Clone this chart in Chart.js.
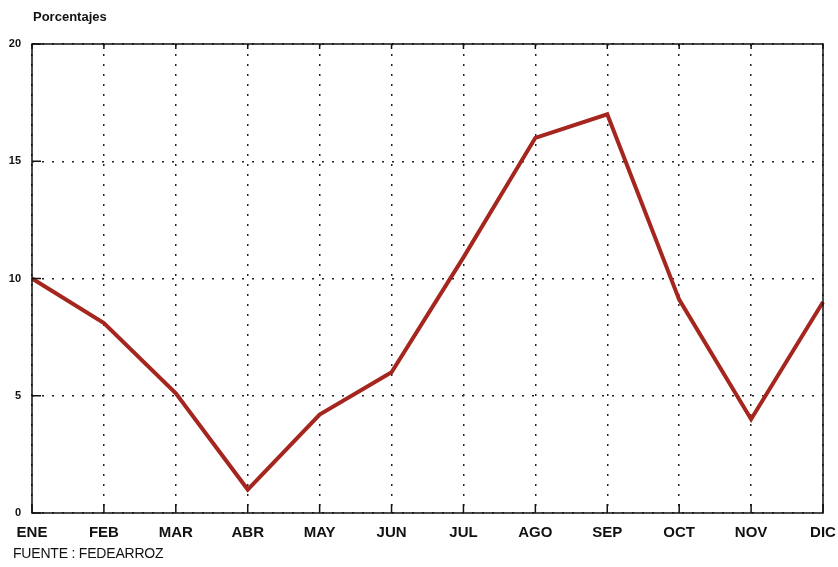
<!DOCTYPE html>
<html>
<head>
<meta charset="utf-8">
<script src="https://cdn.jsdelivr.net/npm/chart.js@4.4.0/dist/chart.umd.min.js"></script>
<style>
  body { margin: 0; background: #fff; }
  #wrap { position: relative; width: 838px; height: 567px; }
  #titulo { position: absolute; left: 33px; top: 9px; font: bold 13px "Liberation Sans", Arial, sans-serif; color: #111; }
  #fuente { position: absolute; left: 13px; top: 545px; font: 14px "Liberation Sans", Arial, sans-serif; color: #111; letter-spacing: -0.2px; }
</style>
</head>
<body>
<div id="wrap">
  <canvas id="grafico" width="838" height="567"></canvas>
  <div id="titulo">Porcentajes</div>
  <div id="fuente">FUENTE : FEDEARROZ</div>
</div>
<script>
const meses = ['ENE', 'FEB', 'MAR', 'ABR', 'MAY', 'JUN', 'JUL', 'AGO', 'SEP', 'OCT', 'NOV', 'DIC'];
const porcentajes = [10, 8.1, 5.1, 1, 4.2, 6, 10.9, 16, 17, 9.1, 4, 9];
const ticksY = [0, 5, 10, 15, 20];

// marco y marcas cortas hacia adentro
const marco = {
    id: 'marco',
    afterDraw(chart) {
        const ctx = chart.ctx;
        const a = chart.chartArea;
        const x = chart.scales.x;
        const y = chart.scales.y;
        ctx.save();
        ctx.strokeStyle = '#111';
        ctx.lineWidth = 1.5;
        ctx.strokeRect(a.left, a.top, a.right - a.left, a.bottom - a.top);
        ctx.beginPath();
        meses.forEach((m, i) => {
            const px = x.getPixelForValue(i);
            ctx.moveTo(px, a.bottom); ctx.lineTo(px, a.bottom - 9);
            ctx.moveTo(px, a.top); ctx.lineTo(px, a.top + 5);
        });
        ticksY.forEach(v => {
            const py = y.getPixelForValue(v);
            ctx.moveTo(a.left, py); ctx.lineTo(a.left + 9, py);
        });
        ctx.stroke();
        ctx.restore();
    }
};

new Chart(document.getElementById('grafico'), {
    type: 'line',
    data: {
        labels: meses,
        datasets: [{
            data: porcentajes,
            borderColor: '#a5261e',
            borderWidth: 4,
            pointRadius: 0,
            tension: 0,
            fill: false
        }]
    },
    options: {
        responsive: false,
        animation: false,
        layout: { padding: { top: 44, left: 0, right: 15, bottom: 0 } },
        plugins: { legend: { display: false }, tooltip: { enabled: false } },
        scales: {
            x: {
                offset: false,
                afterFit(scale) { scale.height = 54; scale.paddingLeft = 0; scale.paddingRight = 0; },
                grid: { color: '#222', lineWidth: 1.5, drawTicks: false },
                border: { display: false, dash: [2, 8] },
                ticks: { color: '#111', padding: 11, maxRotation: 0, font: { family: 'Liberation Sans', weight: 'bold', size: 15 } }
            },
            y: {
                min: 0,
                max: 20,
                afterFit(scale) { scale.width = 32; },
                afterBuildTicks(scale) { scale.ticks = ticksY.map(v => ({ value: v })); },
                grid: { color: '#222', lineWidth: 1.5, drawTicks: false },
                border: { display: false, dash: [2, 8] },
                ticks: { color: '#111', padding: 11, font: { family: 'Liberation Sans', weight: 'bold', size: 11 } }
            }
        }
    },
    plugins: [marco]
});
</script>
</body>
</html>
